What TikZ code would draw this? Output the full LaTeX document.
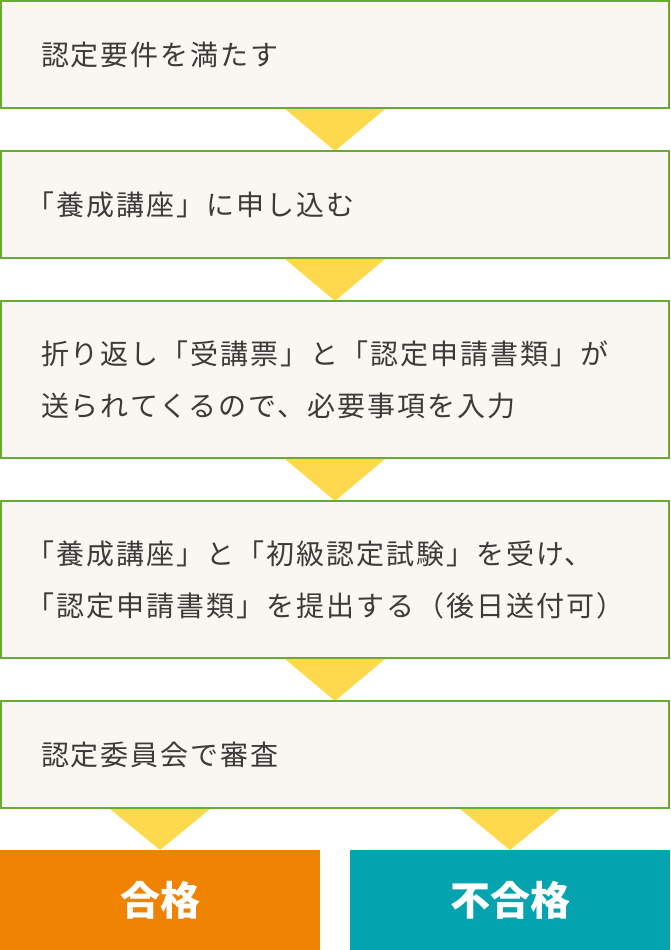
\documentclass[tikz,border=0pt]{standalone}
\usepackage{fontspec}
\setmainfont[LetterSpace=7]{Noto Sans CJK JP}
\newfontfamily\resultfont{Noto Sans CJK JP}
\usepackage{tikz}
\usetikzlibrary{calc,positioning}
\definecolor{framegreen}{HTML}{69AA30}
\definecolor{boxfill}{HTML}{FAF6F1}
\definecolor{pointer}{HTML}{FFD94D}
\definecolor{passorange}{HTML}{EF8200}
\definecolor{failteal}{HTML}{03A4B0}
\definecolor{inktext}{HTML}{3E3A39}
\newcommand{\lead}{\hspace*{-14pt}}

\begin{document}
\begin{tikzpicture}[
    x=1pt, y=-1pt,
    node distance=41pt,
    flowbox/.style={draw=framegreen, line width=2pt, fill=boxfill,
        text=inktext, rectangle, inner xsep=40pt, inner ysep=0pt,
        text width=588pt, align=left, minimum height=107pt,
        font=\fontsize{28}{52}\selectfont},
    tallbox/.style={flowbox, minimum height=157pt},
    resultbox/.style={rectangle, text=white, minimum width=320pt,
        minimum height=100pt, inner sep=0pt,
        font=\resultfont\bfseries\fontsize{40}{42}\selectfont},
    arrowtri/.style={fill=pointer}
    ]
    \useasboundingbox (0,0) rectangle (670,950);
    % Pointers, under the boxes
    \coordinate (t1) at (335,109);
    \coordinate (t2) at (335,259);
    \coordinate (t3) at (335,459);
    \coordinate (t4) at (335,659);
    \coordinate (t5) at (160,809);
    \coordinate (t6) at (510,809);
    \fill[arrowtri] ($(t1)+(-50,0)$) -- (335,151) -- ($(t1)+(50,0)$) -- cycle;
    \fill[arrowtri] ($(t2)+(-50,0)$) -- (335,301) -- ($(t2)+(50,0)$) -- cycle;
    \fill[arrowtri] ($(t3)+(-50,0)$) -- (335,501) -- ($(t3)+(50,0)$) -- cycle;
    \fill[arrowtri] ($(t4)+(-50,0)$) -- (335,701) -- ($(t4)+(50,0)$) -- cycle;
    \fill[arrowtri] ($(t5)+(-50,0)$) -- (160,850) -- ($(t5)+(50,0)$) -- cycle;
    \fill[arrowtri] ($(t6)+(-50,0)$) -- (510,850) -- ($(t6)+(50,0)$) -- cycle;
    % Steps
    \node[flowbox] (require) at (335,54.5) {認定要件を満たす};
    \node[flowbox, below=of require] (apply) {\lead「養成講座」に申し込む};
    \node[tallbox, below=of apply] (papers)
        {折り返し「受講票」と「認定申請書類」が\\送られてくるので、必要事項を入力};
    \node[tallbox, below=of papers] (exam)
        {\lead「養成講座」と「初級認定試験」を受け、\\\lead「認定申請書類」を提出する（後日送付可）};
    \node[flowbox, below=of exam] (review) {認定委員会で審査};
    % Results
    \node[resultbox, fill=passorange] (pass) at (160,900) {合格};
    \node[resultbox, fill=failteal] (fail) at (510,900) {不合格};
\end{tikzpicture}
\end{document}
